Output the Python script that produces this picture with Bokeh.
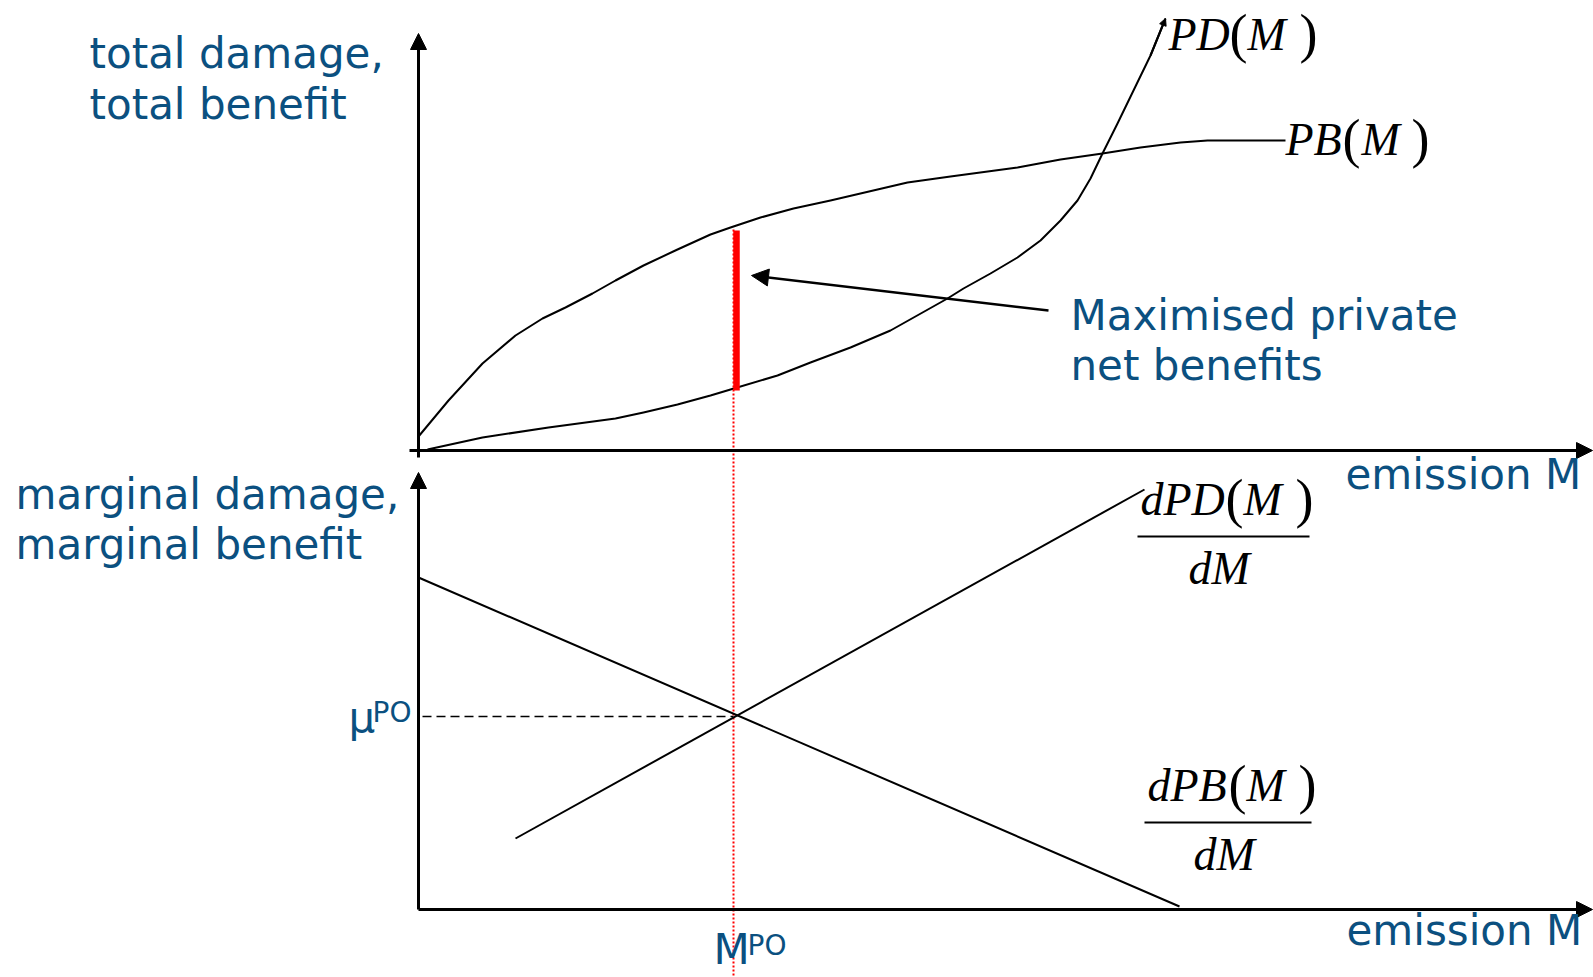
from bokeh.plotting import figure
from bokeh.models import Range1d, Label, Arrow, NormalHead
from bokeh.embed import file_html
from bokeh.resources import INLINE

# ---------------- data (drawing units: emission M on x, value on y) ----------------
# total private benefit PB(M)
pb_M = [0.0, 3.0, 6.4, 9.7, 12.4, 14.7, 17.4, 19.7, 22.5, 25.9, 29.2, 31.2, 34.2, 37.5,
        41.2, 48.9, 53.2, 59.9, 64.2, 68.4, 72.2, 76.2, 78.9, 82.2, 86.7]
pb_val = [1.4, 5.0, 8.7, 11.5, 13.2, 14.3, 15.7, 17.0, 18.5, 20.1, 21.6, 22.3, 23.3, 24.2,
          25.0, 26.8, 27.4, 28.3, 29.1, 29.7, 30.3, 30.8, 31.0, 31.0, 31.0]
# total private damage PD(M)
pd_M = [0.9, 6.4, 13.0, 19.7, 22.5, 25.9, 29.2, 31.2, 35.9, 39.2, 43.2, 47.2, 52.9,
        54.5, 57.2, 59.9, 62.2, 64.2, 65.9, 67.2, 68.4, 69.9, 71.5, 73.2, 74.7]
pd_val = [0.1, 1.3, 2.3, 3.2, 3.8, 4.6, 5.5, 6.1, 7.5, 8.8, 10.3, 12.0, 15.2,
          16.2, 17.7, 19.3, 21.0, 23.0, 25.0, 27.2, 29.7, 32.7, 36.0, 39.5, 43.2]
# marginal benefit dPB/dM and marginal damage dPD/dM (straight lines, lower panel)
mb_M = [0.0, 76.1]
mb_val = [33.2, 0.3]
md_M = [9.7, 72.6]
md_val = [7.1, 42.0]
# private optimum
M_po = 31.5
mu_po = 19.3
pb_at_po = 22.0
pd_at_po = 6.0

BLUE = "#0b5080"
SANS = "DejaVu Sans"
SERIF = "Liberation Serif"

W, H = 1593, 977
p = figure(width=W, height=H,
           x_range=Range1d(-41.8, 117.5), y_range=Range1d(-52.7, 45.0),
           x_axis_type=None, y_axis_type=None,
           output_backend="svg", toolbar_location=None, min_border=0)
p.extra_y_ranges = {"bottom": Range1d(-6.8, 90.9)}
p.grid.visible = False
p.outline_line_color = None
p.background_fill_color = "white"
p.border_fill_color = "white"


def axis_arrow(x0, y0, x1, y1, rng="default"):
    p.add_layout(Arrow(x_start=x0, y_start=y0, x_end=x1, y_end=y1,
                       line_width=3, line_color="black", y_range_name=rng,
                       end=NormalHead(size=16, fill_color="black", line_color="black")))


# axes of the two panels
axis_arrow(0, -0.7, 0, 41.7)
axis_arrow(-0.9, 0, 117.4, 0)
axis_arrow(0, 0, 0, 43.7, "bottom")
axis_arrow(0, 0, 117.4, 0, "bottom")

# upper panel curves
p.line(pb_M, pb_val, line_color="black", line_width=2, line_join="round")
p.line(pd_M, pd_val, line_color="black", line_width=2, line_join="round")
p.add_layout(Arrow(x_start=pd_M[-2], y_start=pd_val[-2], x_end=pd_M[-1], y_end=pd_val[-1],
                   line_width=2, line_color="black",
                   end=NormalHead(size=7, fill_color="black", line_color="black")))

# optimum: red dotted line through both panels and red net-benefit bar
p.segment(x0=[M_po], y0=[pb_at_po + 0.1], x1=[M_po], y1=[-52.7],
          line_color="red", line_width=2, line_dash="2 2")
p.segment(x0=[M_po + 0.3], y0=[pd_at_po], x1=[M_po + 0.3], y1=[pb_at_po],
          line_color="red", line_width=6.5)

# annotation arrow
p.add_layout(Arrow(x_start=63.0, y_start=14.0, x_end=33.3, y_end=17.5,
                   line_width=2.5, line_color="black",
                   end=NormalHead(size=17, fill_color="black", line_color="black")))

# lower panel lines
p.line(mb_M, mb_val, line_color="black", line_width=2, y_range_name="bottom")
p.line(md_M, md_val, line_color="black", line_width=2, y_range_name="bottom")
p.segment(x0=[0.4], y0=[mu_po], x1=[M_po], y1=[mu_po], line_color="black",
          line_width=1.5, line_dash="9 5", y_range_name="bottom")


# -------- text --------
def mx(X):
    return (X - 418) / 10.0


def ty(Y):
    return (450 - Y) / 10.0


def lab(text, X, Y, size=42, font=SANS, color=BLUE, style="normal"):
    # Y is the wanted baseline in picture pixels; shift compensates the label box
    Yb = Y - 0.4 * size
    p.add_layout(Label(x=mx(X), y=ty(Yb), text=text, text_font=font,
                       text_font_size=f"{size}px", text_color=color, text_font_style=style,
                       text_baseline="alphabetic", text_align="left"))


lab("total damage,", 89, 70)
lab("total benefit", 89, 121)
lab("marginal damage,", 15, 511)
lab("marginal benefit", 15, 561)
lab("emission M", 1345, 491)
lab("emission M", 1346, 947)
lab("Maximised private", 1070, 332)
lab("net benefits", 1070, 382)
lab("\u03bc", 348, 734)
lab("PO", 372, 723, size=28)
lab("M", 713, 966)
lab("PO", 747, 956, size=28)


def math(parts, Y):
    for txt, X, kind in parts:
        if kind == "i":
            lab(txt, X, Y, size=46, font=SERIF, color="black", style="italic")
        else:
            lab(txt, X, Y + 3, size=54, font=SERIF, color="black")


math([("PD", 1168, "i"), ("(", 1229, "n"), ("M", 1247, "i"), (")", 1299, "n")], 52)
math([("PB", 1285, "i"), ("(", 1342, "n"), ("M", 1361, "i"), (")", 1411, "n")], 157)
math([("dPD", 1140, "i"), ("(", 1225, "n"), ("M", 1243, "i"), (")", 1295, "n")], 517)
math([("dM", 1188, "i")], 586)
math([("dPB", 1147, "i"), ("(", 1228, "n"), ("M", 1246, "i"), (")", 1298, "n")], 803)
math([("dM", 1193, "i")], 872)
p.segment(x0=[mx(1137), mx(1144)], y0=[ty(536), ty(822)],
          x1=[mx(1309), mx(1311)], y1=[ty(536), ty(822)],
          line_color="black", line_width=2)

open("out.html", "w").write(file_html(p, INLINE))
